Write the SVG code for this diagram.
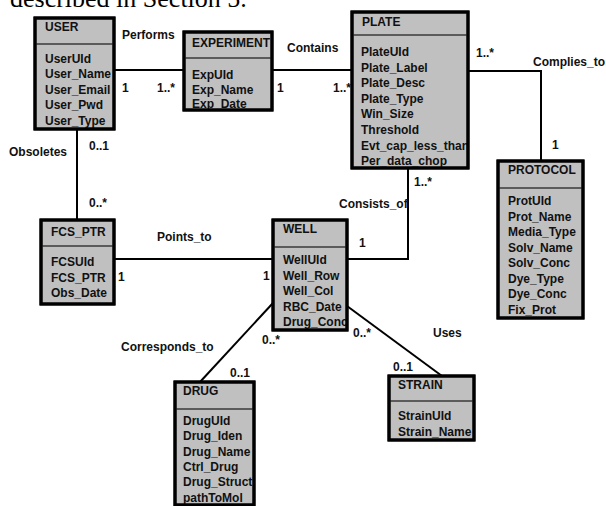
<svg xmlns="http://www.w3.org/2000/svg" width="606" height="506" viewBox="0 0 606 506">
<style>
.box{fill:#c0c0c0;stroke:#000;stroke-width:3}
.div{stroke:#3a3a3a;stroke-width:1.5}
.t{font-family:"Liberation Sans",Arial,sans-serif;font-weight:bold;font-size:12px;fill:#111}
.ln{fill:none;stroke:#000;stroke-width:2}
.cap{font-family:"Liberation Serif","Times New Roman",serif;font-size:26px;fill:#000}
</style>
<defs>
<clipPath id="cUser"><rect x="35" y="18" width="79" height="111"/></clipPath>
<clipPath id="cExp"><rect x="184" y="32" width="88" height="78"/></clipPath>
<clipPath id="cPlate"><rect x="352" y="12" width="116" height="156"/></clipPath>
<clipPath id="cProt"><rect x="498" y="161" width="85" height="157"/></clipPath>
<clipPath id="cFcs"><rect x="41" y="220" width="73" height="84"/></clipPath>
<clipPath id="cWell"><rect x="273" y="220" width="74" height="110"/></clipPath>
<clipPath id="cDrug"><rect x="175" y="382" width="79" height="123"/></clipPath>
<clipPath id="cStrain"><rect x="389" y="376" width="85" height="64"/></clipPath>
</defs>
<rect x="0" y="0" width="606" height="506" fill="#fff"/>
<text class="cap" x="10" y="7">described in Section 5.</text>

<g id="connectors">
<polyline class="ln" points="114,70 184,70"/>
<polyline class="ln" points="272,70 352,70"/>
<polyline class="ln" points="468,71 541,71 541,161"/>
<polyline class="ln" points="77,129 77,220"/>
<polyline class="ln" points="408,168 408,259 347,259"/>
<polyline class="ln" points="114,259 273,259"/>
<polyline class="ln" points="273,303 200,382"/>
<polyline class="ln" points="347,306 442,376"/>
<g class="t">
<text x="122" y="39">Performs</text>
<text x="122" y="92">1</text>
<text x="157" y="92">1..*</text>
<text x="287" y="52">Contains</text>
<text x="277" y="92">1</text>
<text x="333" y="92">1..*</text>
<text x="476" y="57">1..*</text>
<text x="533" y="66">Complies_to</text>
<text x="552" y="149">1</text>
<text x="9" y="156">Obsoletes</text>
<text x="89" y="150">0..1</text>
<text x="89" y="207">0..*</text>
<text x="157" y="241">Points_to</text>
<text x="118" y="281">1</text>
<text x="263" y="280">1</text>
<text x="414" y="186">1..*</text>
<text x="339" y="208">Consists_of</text>
<text x="359" y="247">1</text>
<text x="121" y="351">Corresponds_to</text>
<text x="262" y="344">0..*</text>
<text x="230" y="377">0..1</text>
<text x="353" y="337">0..*</text>
<text x="433" y="337">Uses</text>
<text x="393" y="371">0..1</text>
</g>
</g>

<g id="user">
<rect class="box" x="35" y="18" width="79" height="111"/>
<line class="div" x1="35" y1="44" x2="114" y2="44"/>
<g class="t" clip-path="url(#cUser)">
<text x="45" y="31">USER</text>
<text x="45" y="63">UserUId</text>
<text x="45" y="78">User_Name</text>
<text x="45" y="94">User_Email</text>
<text x="45" y="109">User_Pwd</text>
<text x="45" y="125">User_Type</text>
</g>
<rect x="35" y="18" width="79" height="111" fill="none" stroke="#000" stroke-width="3"/>
</g>

<g id="experiment">
<rect class="box" x="184" y="32" width="88" height="78"/>
<line class="div" x1="184" y1="58" x2="272" y2="58"/>
<g class="t" clip-path="url(#cExp)">
<text x="192" y="47">EXPERIMENT</text>
<text x="192" y="79">ExpUId</text>
<text x="192" y="94">Exp_Name</text>
<text x="192" y="108">Exp_Date</text>
</g>
<rect x="184" y="32" width="88" height="78" fill="none" stroke="#000" stroke-width="3"/>
</g>

<g id="plate">
<rect class="box" x="352" y="12" width="116" height="156"/>
<line class="div" x1="352" y1="35" x2="468" y2="35"/>
<g class="t" clip-path="url(#cPlate)">
<text x="362" y="26">PLATE</text>
<text x="361" y="56">PlateUId</text>
<text x="361" y="71.6">Plate_Label</text>
<text x="361" y="87.2">Plate_Desc</text>
<text x="361" y="102.8">Plate_Type</text>
<text x="361" y="118.4">Win_Size</text>
<text x="361" y="134">Threshold</text>
<text x="361" y="149.6">Evt_cap_less_than</text>
<text x="361" y="165.2">Per_data_chop</text>
</g>
<rect x="352" y="12" width="116" height="156" fill="none" stroke="#000" stroke-width="3"/>
</g>

<g id="protocol">
<rect class="box" x="498" y="161" width="85" height="157"/>
<line class="div" x1="498" y1="188" x2="583" y2="188"/>
<g class="t" clip-path="url(#cProt)">
<text x="508" y="174">PROTOCOL</text>
<text x="508" y="205">ProtUId</text>
<text x="508" y="221">Prot_Name</text>
<text x="508" y="236">Media_Type</text>
<text x="508" y="252">Solv_Name</text>
<text x="508" y="267">Solv_Conc</text>
<text x="508" y="283">Dye_Type</text>
<text x="508" y="298">Dye_Conc</text>
<text x="508" y="314">Fix_Prot</text>
</g>
<rect x="498" y="161" width="85" height="157" fill="none" stroke="#000" stroke-width="3"/>
</g>

<g id="fcs_ptr">
<rect class="box" x="41" y="220" width="73" height="84"/>
<line class="div" x1="41" y1="246" x2="114" y2="246"/>
<g class="t" clip-path="url(#cFcs)">
<text x="51" y="236">FCS_PTR</text>
<text x="51" y="266">FCSUId</text>
<text x="51" y="282">FCS_PTR</text>
<text x="51" y="297">Obs_Date</text>
</g>
<rect x="41" y="220" width="73" height="84" fill="none" stroke="#000" stroke-width="3"/>
</g>

<g id="well">
<rect class="box" x="273" y="220" width="74" height="110"/>
<line class="div" x1="273" y1="247" x2="347" y2="247"/>
<g class="t" clip-path="url(#cWell)">
<text x="283" y="233">WELL</text>
<text x="283" y="264">WellUId</text>
<text x="283" y="280">Well_Row</text>
<text x="283" y="295">Well_Col</text>
<text x="283" y="311">RBC_Date</text>
<text x="283" y="326">Drug_Conc</text>
</g>
<rect x="273" y="220" width="74" height="110" fill="none" stroke="#000" stroke-width="3"/>
</g>

<g id="drug">
<rect class="box" x="175" y="382" width="79" height="123"/>
<line class="div" x1="175" y1="409" x2="254" y2="409"/>
<g class="t" clip-path="url(#cDrug)">
<text x="183" y="395">DRUG</text>
<text x="183" y="425">DrugUId</text>
<text x="183" y="440">Drug_Iden</text>
<text x="183" y="456">Drug_Name</text>
<text x="183" y="471">Ctrl_Drug</text>
<text x="183" y="486">Drug_Struct</text>
<text x="183" y="502">pathToMol</text>
</g>
<rect x="175" y="382" width="79" height="123" fill="none" stroke="#000" stroke-width="3"/>
</g>

<g id="strain">
<rect class="box" x="389" y="376" width="85" height="64"/>
<line class="div" x1="389" y1="401" x2="474" y2="401"/>
<g class="t" clip-path="url(#cStrain)">
<text x="398" y="389">STRAIN</text>
<text x="398" y="420">StrainUId</text>
<text x="398" y="436">Strain_Name</text>
</g>
<rect x="389" y="376" width="85" height="64" fill="none" stroke="#000" stroke-width="3"/>
</g>
</svg>
